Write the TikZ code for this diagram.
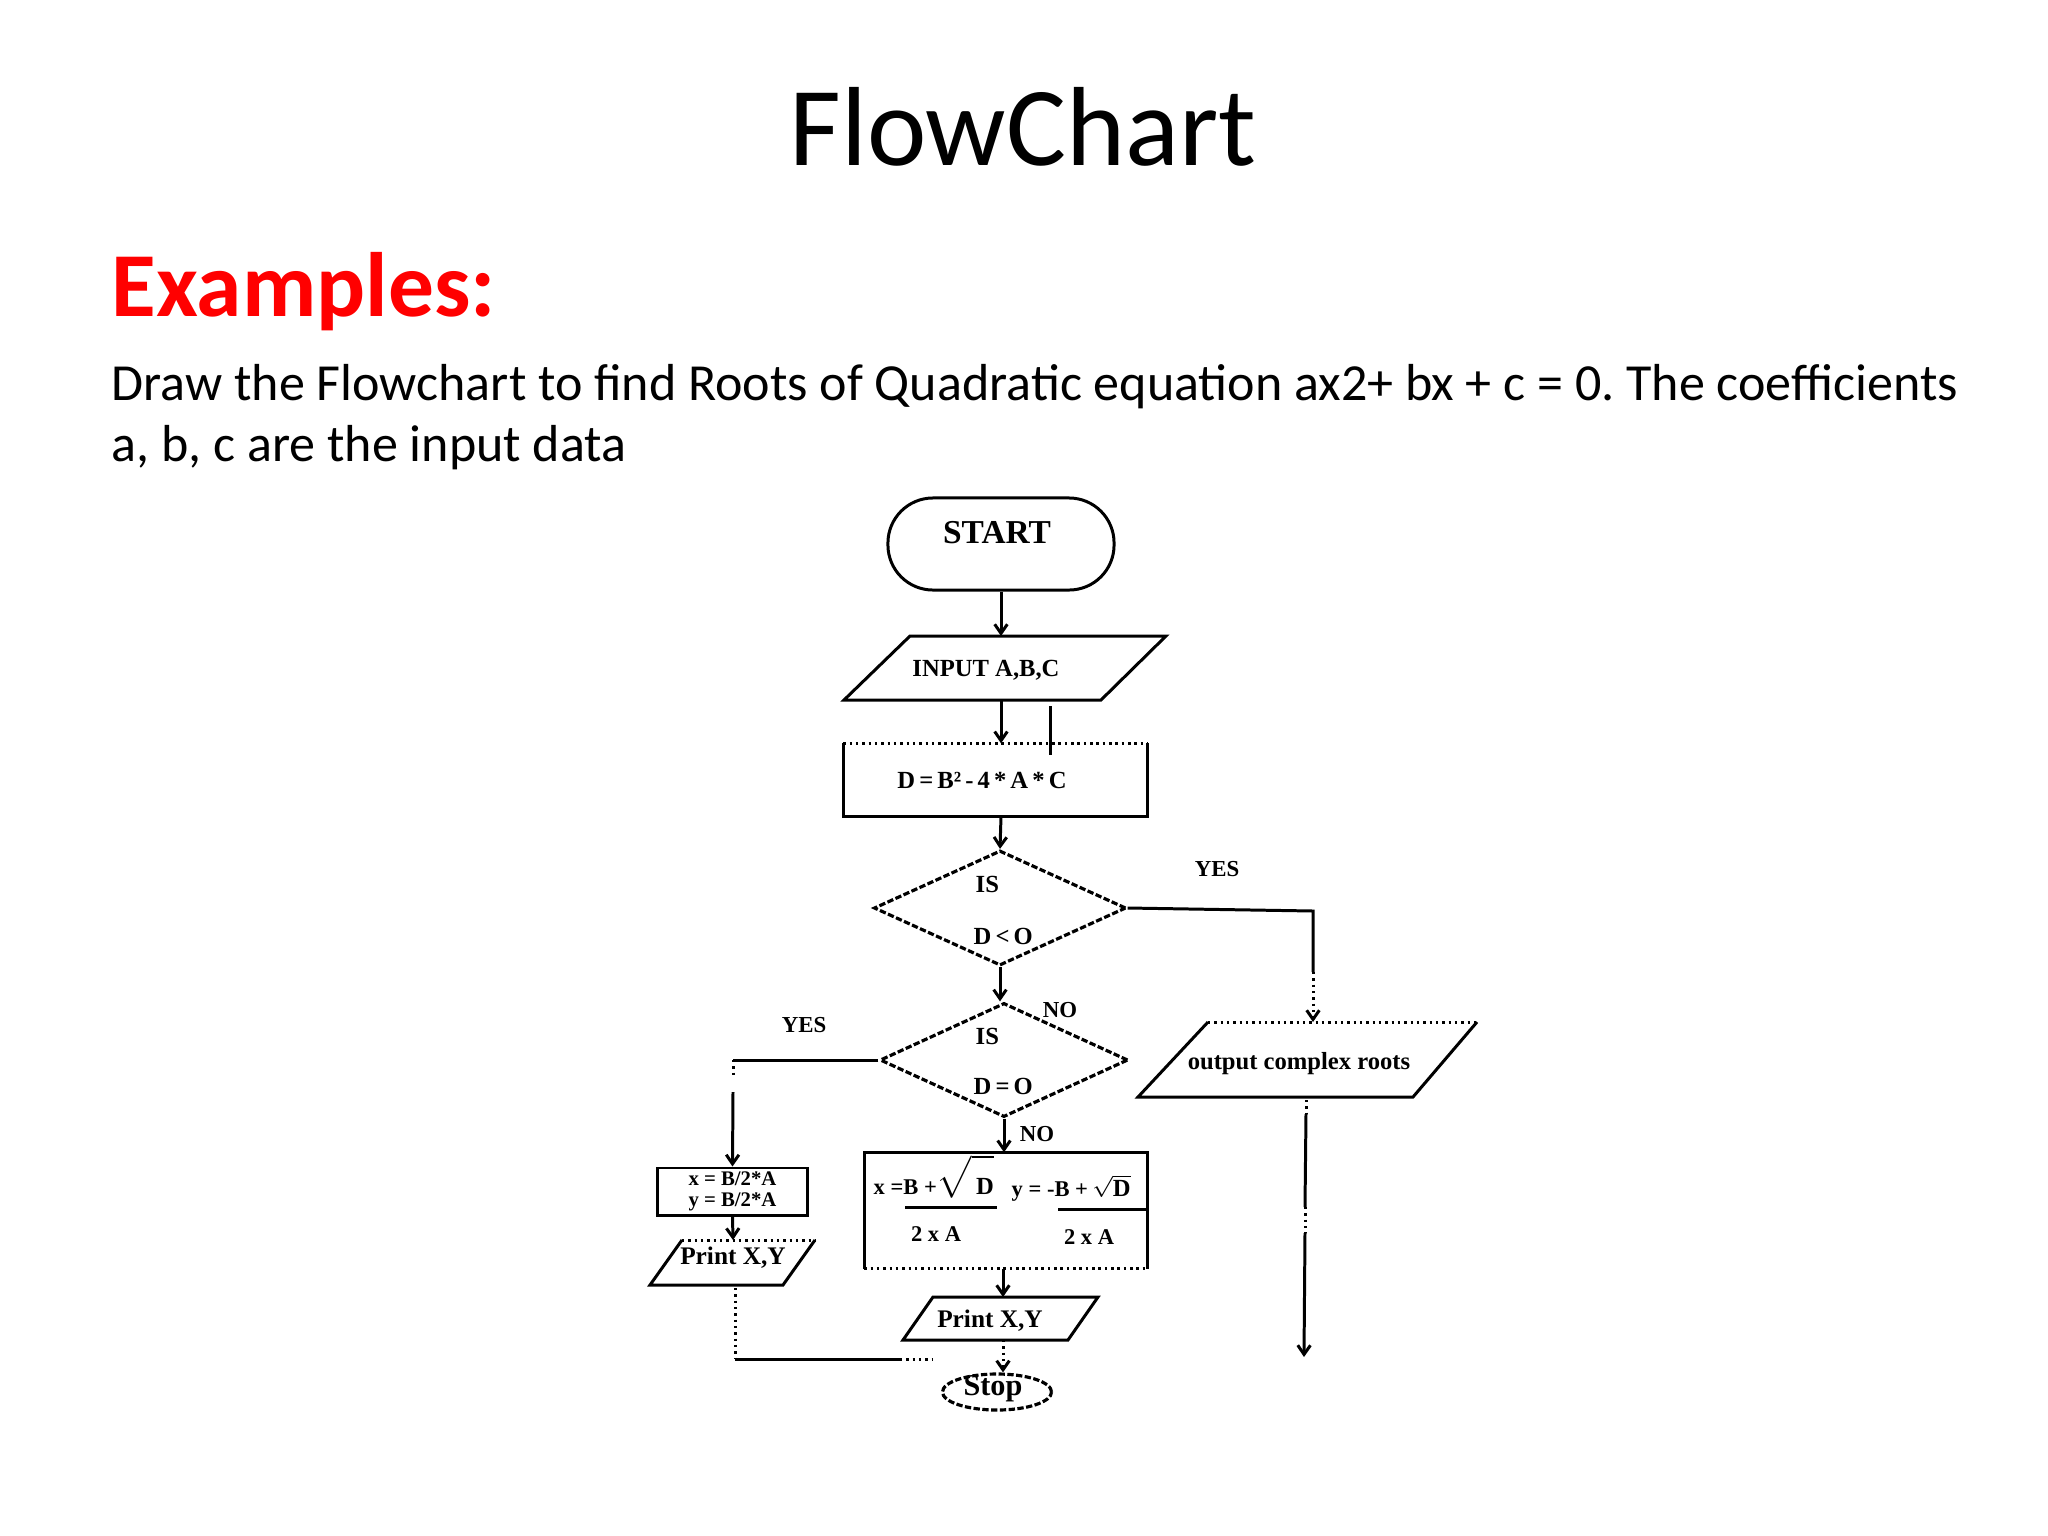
\documentclass[tikz,border=0pt]{standalone}
\usepackage{fontspec}
\setmainfont{Liberation Serif}
\newfontfamily\carlito{Carlito}
\usetikzlibrary{arrows.meta,shapes.geometric}
\definecolor{exred}{RGB}{255,0,0}
\begin{document}
\frenchspacing
\begin{tikzpicture}[x=0.01cm,y=-0.01cm,
  ln/.style={line width=0.85pt},
  arr/.style={line width=0.85pt,-{Straight Barb[length=2.6pt,width=3.6pt]}},
  dotl/.style={line width=0.85pt,dash pattern=on 0.7pt off 1.1pt},
  dotarr/.style={dotl,-{Straight Barb[length=2.6pt,width=3.6pt]}},
  dashl/.style={line width=0.9pt,dash pattern=on 1.8pt off 0.7pt},
  fc/.style={inner sep=0pt,font=\bfseries\fontsize{7}{8}\selectfont},
  fcs/.style={inner sep=0pt,font=\bfseries\fontsize{6.4}{7}\selectfont},
  fcl/.style={inner sep=0pt,font=\bfseries\fontsize{7.2}{8}\selectfont},
  lbl/.style={inner sep=0pt,font=\bfseries\fontsize{6.5}{7}\selectfont},
  body/.style={anchor=base west,inner sep=0pt,font=\carlito\fontsize{14.8}{17}\selectfont}]
\fill[white] (0,0) rectangle (2048,1536);
\useasboundingbox (0,0) rectangle (2048,1536);

% headings
\node[anchor=base,inner sep=0pt,font=\carlito\fontsize{32}{38}\selectfont] (title) at (1023,165) {FlowChart};
\node[anchor=base west,inner sep=0pt,text=exred,font=\carlito\bfseries\fontsize{26}{30}\selectfont] (ex) at (111,316) {Examples:};
\node[body] (l1) at (111,400) {Draw the Flowchart to find Roots of Quadratic equation ax2+ bx + c = 0. The coefficients};
\node[body] (l2) at (111,461) {a, b, c are the input data};

% START
\node[draw,ln,minimum width=2.26cm,minimum height=0.92cm,rounded corners=0.45cm] (start) at (1001,544) {};
\node[inner sep=0pt,font=\bfseries\fontsize{9.5}{11}\selectfont] (starttxt) at (997,533) {START};

% INPUT
\coordinate (inT) at (1001,636);
\coordinate (inB) at (1001,700);
\draw[ln] (910,636) -- (1166,636) -- (1101,700) -- (844,700) -- cycle;
\node[fc] (intxt) at (986,670) {INPUT A,B,C};
\draw[arr] (start.south) -- (inT);

% D box
\node[minimum width=3.03cm,minimum height=0.72cm,inner sep=0pt] (dbox) at (995.5,780) {};
\draw[ln] (dbox.north west) -- (dbox.south west) -- (dbox.south east) -- (dbox.north east);
\draw[dotl] (dbox.north west) -- (dbox.north east);
\node[fc] (dtxt) at (982,780) {D\,=\,B²\,-\,4\,*\,A\,*\,C};
\draw[arr] (inB) -- (inB |- dbox.north);
\coordinate (stA) at (1050,706);
\coordinate (stB) at (1050,755);
\draw[ln] (stA) -- (stB);

% diamond 1
\node[diamond,draw,dashl,minimum width=2.52cm,minimum height=1.15cm,inner sep=0pt] (d1) at (1000,908) {};
\node[fc,anchor=west] (is1) at (975,884) {IS};
\node[fc,anchor=west] (dl) at (973,936) {D\,<\,O};
\draw[arr] (inB |- dbox.south) -- (d1.north);

% YES right branch
\node[lbl] (yes1) at (1217,869) {YES};
\coordinate (c1) at (1313,911);
\coordinate (c1b) at (1313,972);
\coordinate (outT) at (1313,1022);
\draw[ln] (d1.east) -- (c1) -- (c1b);
\draw[dotarr] (c1b) -- (outT);

% output complex roots
\draw[dotl] (1208,1022) -- (1477,1022);
\draw[ln] (1477,1022) -- (1413,1097) -- (1138,1097) -- (1208,1022);
\node[inner sep=0pt,anchor=base,font=\bfseries\fontsize{7}{8}\selectfont] (outtxt) at (1299,1069) {output complex roots};
\coordinate (oB) at (1306,1100);
\coordinate (o1) at (1306,1114);
\coordinate (o2) at (1305,1207);
\coordinate (o3) at (1305,1233);
\coordinate (oEnd) at (1304,1357);
\draw[dotl] (oB) -- (o1);
\draw[ln] (o1) -- (o2);
\draw[dotl] (o2) -- (o3);
\draw[arr] (o3) -- (oEnd);

% diamond 2
\node[diamond,draw,dashl,minimum width=2.48cm,minimum height=1.14cm,inner sep=0pt] (d2) at (1004,1060) {};
\node[fc,anchor=west] (is2) at (975,1036) {IS};
\node[fc,anchor=west] (de) at (973,1086) {D\,=\,O};
\draw[arr] (d1.south) -- (d1.south |- d2.north);
\node[lbl] (no1) at (1060,1010) {NO};

% YES left branch
\node[lbl] (yes2) at (804,1025) {YES};
\coordinate (c2) at (733,1060);
\coordinate (c2a) at (733,1077);
\coordinate (c2b) at (733,1092);
\draw[ln] (d2.west) -- (c2);
\draw[dotl] (c2) -- (c2a);
\node[draw,ln,minimum width=1.49cm,minimum height=0.47cm,inner sep=0pt,align=center,
      font=\bfseries\fontsize{5.9}{5.8}\selectfont] (lbox) at (732.5,1191.5) {x = B/2*A\\y = B/2*A};
\draw[arr] (c2b) -- (lbox.north);

% left print
\coordinate (lpT) at (733,1240);
\draw[dotl] (682,1240) -- (815,1240);
\draw[ln] (815,1240) -- (783,1285) -- (650,1285) -- (682,1240);
\node[fcl] (lptxt) at (733,1258) {Print X,Y};
\draw[arr] (lbox.south) -- (lpT);
\coordinate (lpB) at (735,1288);
\coordinate (lc) at (735,1359);
\coordinate (lm) at (900,1359);
\coordinate (lEnd) at (932,1359);
\draw[dotl] (lpB) -- (lc);
\draw[ln] (lc) -- (lm);
\draw[dotl] (lm) -- (lEnd);

% roots box
\node[lbl] (no2) at (1037,1134) {NO};
\node[minimum width=2.82cm,minimum height=1.15cm,inner sep=0pt] (rbox) at (1006,1210.5) {};
\draw[ln] (rbox.south west) -- (rbox.north west) -- (rbox.north east) -- (rbox.south east);
\draw[dotl] (rbox.south west) -- (rbox.south east);
\draw[arr] (d2.south) -- (d2.south |- rbox.north);
\node[fcs,anchor=base west] (xn) at (873,1194) {x =B +$\sqrt{\rule{0pt}{8.5pt}\hbox{\bfseries\fontsize{7}{8}\selectfont\,D}}$};
\coordinate (f1a) at (905,1207);
\coordinate (f1b) at (997,1207);
\draw[ln] (f1a) -- (f1b);
\node[fcs] (xd) at (936,1234) {2 x A};
\node[fcs,anchor=base west] (yn) at (1011,1196) {y = -B +\,$\sqrt{\hbox{\bfseries\fontsize{7}{8}\selectfont D}}$};
\coordinate (f2a) at (1058,1209);
\coordinate (f2b) at (1148,1209);
\draw[ln] (f2a) -- (f2b);
\node[fcs] (yd) at (1089,1237) {2 x A};

% right print
\coordinate (rpT) at (1003,1297);
\coordinate (rpB) at (1003,1340);
\draw[ln] (933,1297) -- (1098,1297) -- (1068,1340) -- (903,1340) -- cycle;
\node[fcl] (rptxt) at (990,1321) {Print X,Y};
\draw[arr] (rpT |- rbox.south) -- (rpT);

% stop
\node[ellipse,draw,dashl,minimum width=1.09cm,minimum height=0.36cm,inner sep=0pt] (stop) at (997,1392) {};
\node[inner sep=0pt,font=\bfseries\fontsize{8.6}{10}\selectfont] (stoptxt) at (993,1389) {Stop};
\draw[dotarr] (rpB) -- (rpB |- stop.north);
\end{tikzpicture}
\end{document}
